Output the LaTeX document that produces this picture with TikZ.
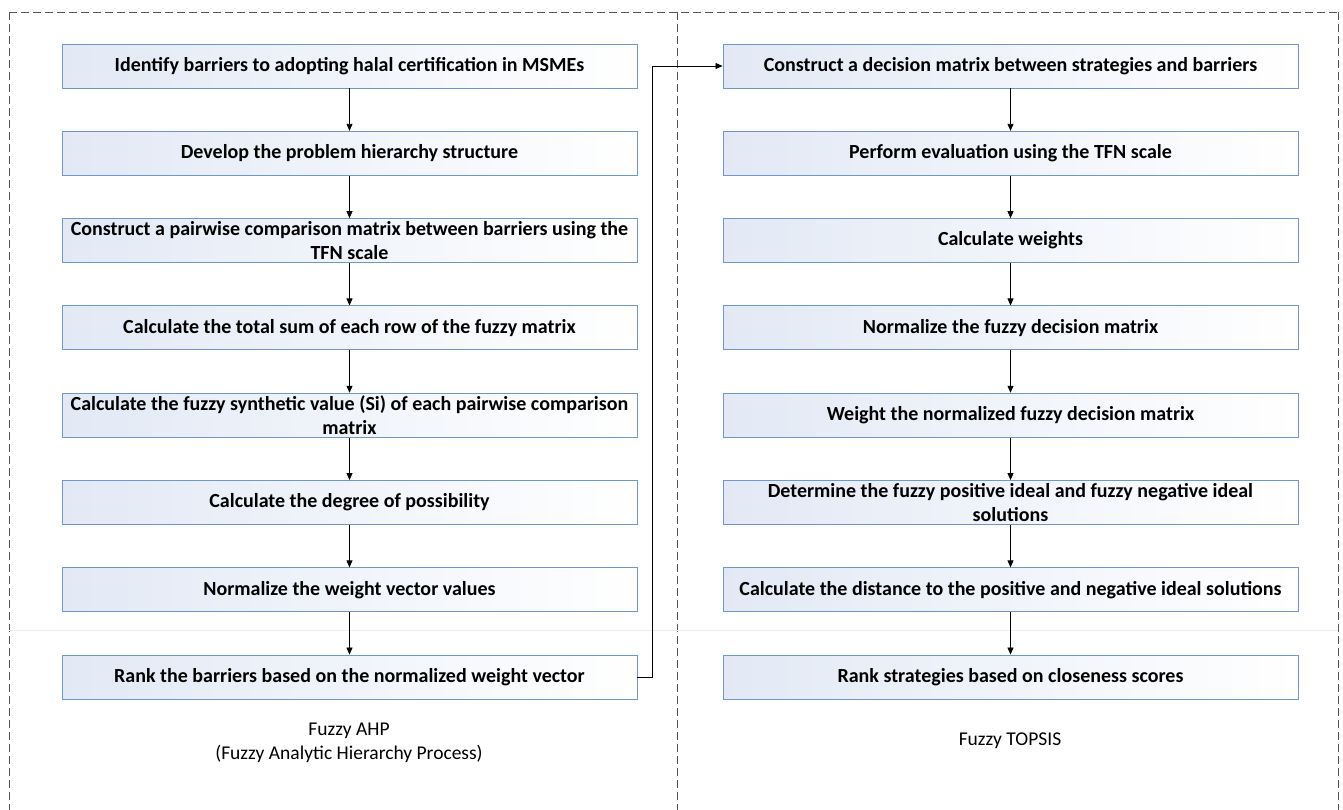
\documentclass[tikz,border=0pt]{standalone}
\usepackage{fontspec}
\setmainfont{Carlito}
\usetikzlibrary{arrows.meta}
\definecolor{boxborder}{RGB}{108,152,204}
\definecolor{boxfill}{RGB}{226,233,245}
\definecolor{dashgray}{RGB}{85,85,85}
\definecolor{faintline}{RGB}{232,236,243}
\tikzset{
  stepbox/.style={draw=boxborder, line width=0.9pt, minimum width=575pt, minimum height=44pt,
    inner sep=0pt, align=center, font=\fontsize{20}{24.5}\selectfont\bfseries,
    shade, shading angle=60, left color=boxfill, right color=white},
  flow/.style={-{Triangle[length=7pt,width=6pt]}, line width=0.8pt, black},
  frame/.style={draw=dashgray, line width=0.9pt, dash pattern=on 8pt off 4pt},
  caption/.style={font=\fontsize{19.5}{24}\selectfont, align=center}
}
\begin{document}
\begin{tikzpicture}[x=1pt,y=-1pt]
\useasboundingbox (0,0) rectangle (1343,809);
\begin{scope}
\clip (0,0) rectangle (1343,809);
\draw[frame] (9,12) -- (9,830);
\draw[frame] (9,12) -- (1338,12);
\draw[frame] (1338,12) -- (1338,830);
\draw[frame] (677,12) -- (677,830);
\end{scope}
\draw[faintline, line width=0.8pt] (9,630) -- (1338,630);

% left column
\node[stepbox] (l1) at (349.5,66) {Identify barriers to adopting halal certification in MSMEs};
\node[stepbox] (l2) at (349.5,153.3) {Develop the problem hierarchy structure};
\node[stepbox] (l3) at (349.5,240.6) {Construct a pairwise comparison matrix between barriers using the\\TFN scale};
\node[stepbox] (l4) at (349.5,327.9) {Calculate the total sum of each row of the fuzzy matrix};
\node[stepbox] (l5) at (349.5,415.2) {Calculate the fuzzy synthetic value (Si) of each pairwise comparison\\matrix};
\node[stepbox] (l6) at (349.5,502.5) {Calculate the degree of possibility};
\node[stepbox] (l7) at (349.5,589.8) {Normalize the weight vector values};
\node[stepbox] (l8) at (349.5,677) {Rank the barriers based on the normalized weight vector};

% right column
\node[stepbox] (r1) at (1010.5,66) {Construct a decision matrix between strategies and barriers};
\node[stepbox] (r2) at (1010.5,153.3) {Perform evaluation using the TFN scale};
\node[stepbox] (r3) at (1010.5,240.6) {Calculate weights};
\node[stepbox] (r4) at (1010.5,327.9) {Normalize the fuzzy decision matrix};
\node[stepbox] (r5) at (1010.5,415.2) {Weight the normalized fuzzy decision matrix};
\node[stepbox] (r6) at (1010.5,502.5) {Determine the fuzzy positive ideal and fuzzy negative ideal\\solutions};
\node[stepbox] (r7) at (1010.5,589.8) {Calculate the distance to the positive and negative ideal solutions};
\node[stepbox] (r8) at (1010.5,677) {Rank strategies based on closeness scores};

\foreach \a/\b in {l1/l2,l2/l3,l3/l4,l4/l5,l5/l6,l6/l7,l7/l8,r1/r2,r2/r3,r3/r4,r4/r5,r5/r6,r6/r7,r7/r8}
  \draw[flow] (\a.south) -- (\b.north);

\coordinate (bend) at (652,677);
\draw[flow] (l8.east) -- (bend) |- (r1.west);

\node[caption] (capl) at (349,743) {Fuzzy AHP\\(Fuzzy Analytic Hierarchy Process)};
\node[caption] (capr) at (1010,741) {Fuzzy TOPSIS};
\end{tikzpicture}
\end{document}
